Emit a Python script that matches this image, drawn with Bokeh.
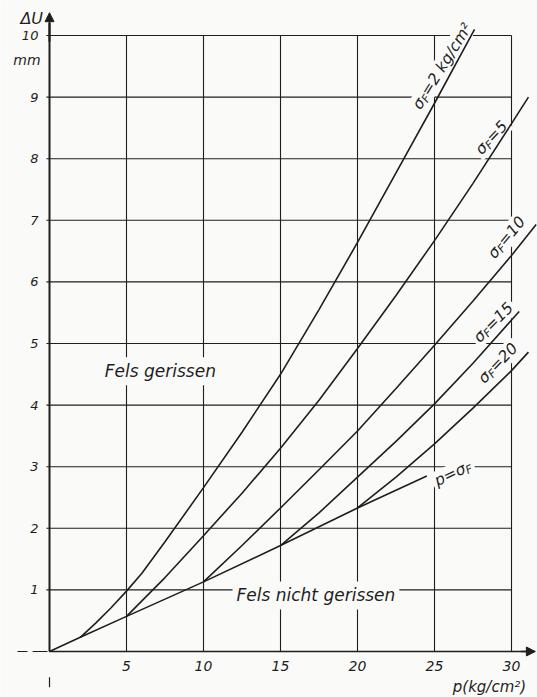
import numpy as np
from bokeh.plotting import figure
from bokeh.models import Range1d, Label, Arrow, NormalHead
from bokeh.core.properties import value
from bokeh.embed import file_html
from bokeh.resources import INLINE

# ---------------- data ----------------
x_ticks = [5, 10, 15, 20, 25, 30]
x_tick_labels = ["5", "10", "15", "20", "25", "30"]
y_ticks = [1, 2, 3, 4, 5, 6, 7, 8, 9, 10]
y_tick_labels = ["1", "2", "3", "4", "5", "6", "7", "8", "9", "10"]

# limit line p = sigma_F
p_lim = [0, 2, 5, 10, 15, 20, 24.5]
u_lim = [0, 0.23, 0.57, 1.13, 1.72, 2.33, 2.85]

# sigma_F = 2 kg/cm2
p_sf2 = [2, 3, 4, 5, 6, 7.5, 10, 12.5, 15, 17.5, 20, 22.5, 25, 27.6]
u_sf2 = [0.23, 0.46, 0.71, 0.98, 1.27, 1.78, 2.66, 3.56, 4.5, 5.55, 6.64, 7.77, 8.9, 10.1]
# sigma_F = 5
p_sf5 = [5, 7.5, 10, 12.5, 15, 17.5, 20, 22.5, 25, 27.5, 30, 31.1]
u_sf5 = [0.57, 1.2, 1.88, 2.57, 3.3, 4.08, 4.92, 5.78, 6.67, 7.6, 8.57, 9.0]
# sigma_F = 10
p_sf10 = [10, 12.5, 15, 17.5, 20, 22.5, 25, 27.5, 30, 31.6]
u_sf10 = [1.13, 1.72, 2.33, 2.95, 3.58, 4.27, 4.97, 5.69, 6.43, 6.93]
# sigma_F = 15
p_sf15 = [15, 17.5, 20, 22.5, 25, 27.5, 30, 30.5]
u_sf15 = [1.72, 2.25, 2.83, 3.41, 4.02, 4.68, 5.38, 5.52]
# sigma_F = 20
p_sf20 = [20, 22.5, 25, 27.5, 30, 31.1]
u_sf20 = [2.33, 2.83, 3.37, 3.95, 4.56, 4.86]

curves = [(p_lim, u_lim), (p_sf2, u_sf2), (p_sf5, u_sf5), (p_sf10, u_sf10),
          (p_sf15, u_sf15), (p_sf20, u_sf20)]

# ---------------- style ----------------
BG = "#fafaf8"
INK = "#1e1e1e"
FONT = "DejaVu Sans"

p = figure(width=537, height=697,
           x_range=Range1d(-3.182, 31.688), y_range=Range1d(-0.747, 10.568),
           output_backend="svg", toolbar_location=None,
           x_axis_location=None, y_axis_location=None,
           min_border=0, background_fill_color=BG, border_fill_color=BG,
           outline_line_color=None)
for g in p.grid:
    g.visible = False

# grid
p.segment(x0=-0.2, y0=y_ticks, x1=max(x_ticks), y1=y_ticks,
          line_color=INK, line_width=1.1)
p.segment(x0=x_ticks, y0=0, x1=x_ticks, y1=max(y_ticks),
          line_color=INK, line_width=1.1)

# axes
p.segment(x0=0, y0=0, x1=0, y1=10.2, line_color=INK, line_width=2)
p.segment(x0=0, y0=0, x1=31.0, y1=0, line_color=INK, line_width=1.6)
p.segment(x0=0, y0=-0.42, x1=0, y1=-0.58, line_color=INK, line_width=1.2)
p.segment(x0=[-2.08, -1.1], y0=0, x1=[-1.43, -0.13], y1=0,
          line_color=INK, line_width=1.2)
p.add_layout(Arrow(end=NormalHead(size=9, fill_color=INK, line_color=INK),
                   x_start=0, y_start=9.9, x_end=0, y_end=10.37,
                   line_color=INK, line_width=2))
p.add_layout(Arrow(end=NormalHead(size=9, fill_color=INK, line_color=INK),
                   x_start=30.6, y_start=0, x_end=31.55, y_end=0,
                   line_color=INK, line_width=1.6))

# label backgrounds (drawn over the grid, under the curves)
W = {"σ": 0.63, "F": 0.575, "=": 0.838, " ": 0.318, "k": 0.579, "g": 0.635,
     "/": 0.337, "c": 0.55, "m": 0.974, "²": 0.401, "p": 0.635}
for d in "0123456789":
    W[d] = 0.636


def adv(s, fs):
    return sum(W.get(ch, 0.6) for ch in s) * fs


FS = 15.5
curve_labels = [
    (25.5, 9.5, 58, [("σ", 1, 0), ("F", 0.72, 3.5), ("=2 kg/cm²", 1, 0)]),
    (28.7, 8.34, 47, [("σ", 1, 0), ("F", 0.72, 3.5), ("=5", 1, 0)]),
    (29.68, 6.72, 50, [("σ", 1, 0), ("F", 0.72, 3.5), ("=10", 1, 0)]),
    (28.83, 5.34, 45, [("σ", 1, 0), ("F", 0.72, 3.5), ("=15", 1, 0)]),
    (29.12, 4.68, 46, [("σ", 1, 0), ("F", 0.72, 3.5), ("=20", 1, 0)]),
    (26.2, 2.89, 25, [("p=σ", 1, 0), ("F", 0.72, 3.5)]),
]

for cx, cy, ang, parts in curve_labels:
    total = sum(adv(t, FS * k) for t, k, _ in parts)
    p.rect(x=cx, y=cy, width=total + 6, height=FS * 1.25,
           width_units="screen", height_units="screen",
           angle=ang, angle_units="deg", fill_color=BG, line_color=None)

# curves
for xs, ys in curves:
    p.line(xs, ys, line_color=INK, line_width=1.6)

# tick labels
p.text(x=x_ticks, y=-0.236, text=x_tick_labels, text_align="center",
       text_baseline="middle", text_font=value(FONT), text_font_style="italic",
       text_font_size="14px", text_color=INK)
p.text(x=-0.72, y=y_ticks, text=y_tick_labels, text_align="right",
       text_baseline="middle", text_font=value(FONT), text_font_style="italic",
       text_font_size="13px", text_color=INK)


def plain_label(x, y, text, size, align="center", bg=None, pad=0):
    kw = dict(x=x, y=y, text=text, text_align=align, text_baseline="middle",
              text_font=FONT, text_font_style="italic", text_font_size=size,
              text_color=INK)
    if bg is not None:
        kw.update(background_fill_color=bg, padding=pad)
    p.add_layout(Label(**kw))


plain_label(-0.42, 10.28, "ΔU", "16px", align="right")
plain_label(-0.58, 9.6, "mm", "14px", align="right")
plain_label(30.95, -0.57, "p(kg/cm²)", "15px", align="right")
plain_label(7.2, 4.55, "Fels gerissen", "17px", bg=BG, pad=4)
plain_label(17.3, 0.91, "Fels nicht gerissen", "17px", bg=BG, pad=4)

# rotated curve labels with subscript F
for cx, cy, ang, parts in curve_labels:
    th = np.radians(ang)
    c, s = np.cos(th), np.sin(th)
    total = sum(adv(t, FS * k) for t, k, _ in parts)
    pos = -total / 2
    for t, k, dn in parts:
        ox = pos * c + dn * s
        oy = pos * s - dn * c
        p.add_layout(Label(x=cx, y=cy, x_offset=ox, y_offset=oy, text=t,
                           angle=ang, angle_units="deg", text_align="left",
                           text_baseline="middle", text_font=FONT,
                           text_font_style="italic",
                           text_font_size=f"{FS * k:.1f}px", text_color=INK))
        pos += adv(t, FS * k)

open("out.html", "w").write(file_html(p, INLINE))
